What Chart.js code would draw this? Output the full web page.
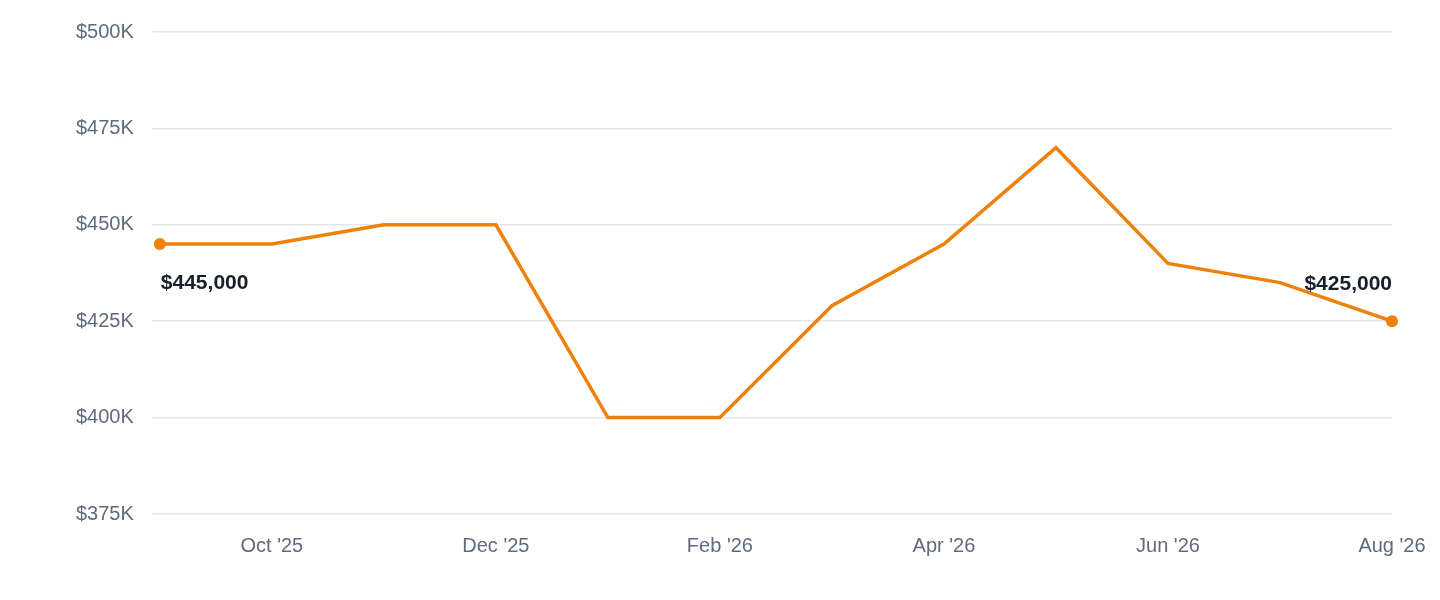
<!DOCTYPE html>
<html><head><meta charset="utf-8">
<script src="https://cdn.jsdelivr.net/npm/chart.js@4/dist/chart.umd.min.js"></script>
<style>html,body{margin:0;padding:0;background:#fff}#w{width:1440px;height:600px}</style>
</head><body><div id="w"><canvas id="c"></canvas></div>
<script>
const categories = ["Sep '25","Oct '25","Nov '25","Dec '25","Jan '26","Feb '26","Mar '26","Apr '26","May '26","Jun '26","Jul '26","Aug '26"];
const prices = [445000,445000,450000,450000,400000,400000,429000,445000,470000,440000,435000,425000];
const yTicks = [375000,400000,425000,450000,475000,500000];
const orange = '#ee8208';
const FONT = '"Liberation Sans", Arial, Helvetica, sans-serif';
const endLabels = {
  id:'endLabels',
  afterDatasetsDraw(chart){
    const ctx=chart.ctx, meta=chart.getDatasetMeta(0);
    const fmt=v=>'$'+v.toLocaleString('en-US');
    ctx.save();
    ctx.font='bold 21px '+FONT;
    ctx.fillStyle='#15202b';
    const f=meta.data[0], l=meta.data[meta.data.length-1];
    ctx.textAlign='left'; ctx.textBaseline='middle';
    ctx.fillText(fmt(prices[0]), f.x+1, f.y+39);
    ctx.textAlign='right';
    ctx.fillText(fmt(prices[prices.length-1]), l.x, l.y-37);
    ctx.restore();
  }
};
new Chart(document.getElementById('c'),{
  type:'line',
  data:{labels:categories,datasets:[{data:prices,borderColor:orange,backgroundColor:orange,borderWidth:3.5,tension:0,
    pointRadius:ctx=>(ctx.dataIndex===0||ctx.dataIndex===prices.length-1)?6:0,pointHoverRadius:0,pointBorderWidth:0}]},
  options:{responsive:true,maintainAspectRatio:false,animation:false,
    layout:{padding:{top:32,right:48,left:58,bottom:30}},
    plugins:{legend:{display:false},tooltip:{enabled:false}},
    scales:{
      x:{grid:{display:false},border:{display:false},
        ticks:{color:'#5f6b7a',font:{size:20,family:FONT},autoSkip:false,maxRotation:0,padding:12,
          callback:(v,i)=>i%2===1?categories[i]:''}},
      y:{min:375000,max:500000,afterBuildTicks:s=>{s.ticks=yTicks.map(v=>({value:v}));},
        grid:{color:'#e3e6ea',lineWidth:1.5},border:{display:false},
        ticks:{color:'#5f6b7a',padding:18,font:{size:20,family:FONT},callback:v=>'$'+(v/1000)+'K'}}
    }},
  plugins:[endLabels]
});
</script></body></html>
